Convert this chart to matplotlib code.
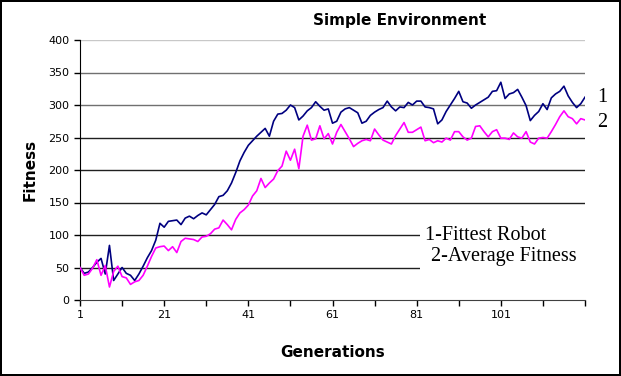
import numpy as np
import matplotlib.pyplot as plt
from matplotlib.patches import Rectangle

# generations 1..121
generations = np.arange(1, 122)

fittest = [50, 41, 43, 50, 58, 64, 40, 84, 30, 40,
           50, 41, 38, 30, 40, 52, 65, 76, 92, 118,
           112, 121, 122, 123, 116, 126, 129, 125, 130, 134,
           131, 139, 147, 159, 161, 168, 180, 196, 214, 227,
           238, 245, 252, 258, 264, 252, 275, 286, 287, 292,
           300, 296, 277, 283, 291, 296, 305, 298, 292, 294,
           272, 275, 289, 294, 296, 292, 288, 272, 275, 284,
           289, 293, 296, 306, 297, 291, 297, 296, 304, 300,
           306, 306, 297, 296, 294, 271, 277, 290, 300, 310,
           321, 305, 303, 295, 300, 304, 308, 312, 321, 322,
           335, 310, 317, 319, 324, 312, 299, 276, 284, 290,
           302, 293, 311, 317, 321, 329, 314, 304, 296, 302,
           312]

average = [50, 38, 40, 49, 62, 38, 53, 20, 44, 52,
           36, 34, 24, 28, 30, 38, 52, 67, 80, 82,
           83, 76, 82, 73, 90, 95, 94, 93, 90, 97,
           98, 102, 109, 111, 123, 116, 108, 124, 134, 139,
           146, 160, 168, 187, 173, 180, 186, 199, 206, 229,
           215, 232, 202, 252, 269, 246, 248, 268, 248, 256,
           240, 258, 270, 259, 248, 236, 241, 245, 247, 245,
           263, 254, 246, 243, 240, 253, 263, 273, 258, 258,
           262, 266, 245, 247, 242, 245, 243, 249, 246, 259,
           259, 251, 246, 249, 267, 268, 259, 251, 259, 262,
           249, 249, 247, 257, 251, 249, 259, 243, 240, 249,
           250, 249, 259, 270, 282, 291, 282, 279, 271, 279,
           277]

xtick_labels = [1, 21, 41, 61, 81, 101]

fig = plt.figure(figsize=(6.21, 3.76), dpi=100, linewidth=1.5, edgecolor='black')
ax = fig.add_axes([80/621, 1-300/376, 505/621, 260/376])

# gridlines
for v in range(50, 401, 50):
    col = '#c8c8c8' if v == 400 else ('#707070' if v >= 300 else '#202020')
    ax.axhline(v, color=col, lw=1, zorder=1)

ax.plot(generations, fittest, color='#000080', lw=1.2, zorder=3)
ax.plot(generations, average, color='#ff00ff', lw=1.2, zorder=3)

ax.set_xlim(1, 121)
ax.set_ylim(0, 400)
ax.set_yticks(range(0, 401, 50))
ax.set_xticks(range(1, 122, 10))
ax.set_xticklabels([str(t) if t in xtick_labels else '' for t in range(1, 122, 10)])
ax.tick_params(labelsize=8, length=4, width=1, color='black')
for s in ['top', 'right']:
    ax.spines[s].set_visible(False)
ax.spines['left'].set_color('black')
ax.spines['bottom'].set_color('#404040')

ax.set_xlabel('Generations', fontsize=11, fontweight='bold', labelpad=18)
ax.set_ylabel('Fitness', fontsize=11, fontweight='bold', labelpad=8)
fig.text(400/621, 1-20/376, 'Simple Environment', fontsize=11, fontweight='bold',
         ha='center', va='center')

# white box behind the text key (hides the gridlines there)
fig.add_artist(Rectangle((420/621, 1-276/376), 175/621, 52/376, transform=fig.transFigure,
                         facecolor='white', edgecolor='none', zorder=2))
serif = 'Liberation Serif'
fig.text(425/621, 1-235/376, '1-Fittest Robot', fontsize=14.5, family=serif,
         ha='left', va='center', zorder=4)
fig.text(431/621, 1-256/376, '2-Average Fitness', fontsize=14.5, family=serif,
         ha='left', va='center', zorder=4)
fig.text(597/621, 1-97/376, '1', fontsize=14.5, family=serif, va='center')
fig.text(597/621, 1-122/376, '2', fontsize=14.5, family=serif, va='center')

fig.savefig('out.png', dpi=100, edgecolor=fig.get_edgecolor())
